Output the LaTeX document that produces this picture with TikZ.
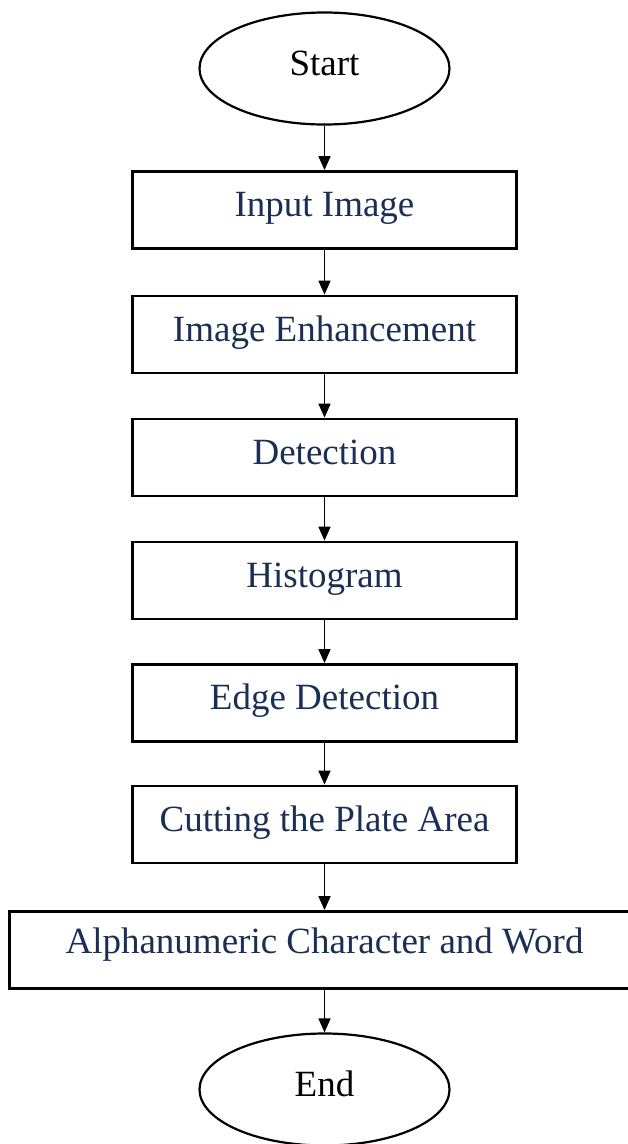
\documentclass[tikz,border=0pt]{standalone}
\usepackage{fontspec}
\setmainfont{Liberation Serif}
\usepackage{xcolor}
\definecolor{cText}{HTML}{1B2F55}
\usetikzlibrary{positioning,arrows.meta,shapes.geometric}
\tikzset{
  node-box/.style={draw=black,line width=2.8pt,minimum height=77pt,
    minimum width=384pt,inner sep=0pt,text height=25pt,text depth=12pt,
    font=\fontsize{37}{41}\selectfont,text=cText},
  node-term/.style={draw=black,line width=2.2pt,ellipse,inner sep=0pt,
    minimum width=250pt,minimum height=112pt,text height=25pt,text depth=12pt,
    font=\fontsize{37}{41}\selectfont},
  arrow/.style={-{Triangle[length=14pt,width=12pt]},line width=1.6pt},
}
\begin{document}
\begin{tikzpicture}
  \useasboundingbox (0,0) rectangle (627pt,-1144pt);
  \node[node-term] at (324.5pt,-68.5pt) (start) {Start};
  \foreach \name/\y/\txt in {input/210/Input Image, enhance/334.5/Image Enhancement,
      detect/457.5/Detection, histo/580.5/Histogram, edge/703/Edge Detection,
      cut/824.5/Cutting the Plate Area} {
    \node[node-box] at (324.5pt,-\y pt) (\name) {\txt};
  }
  \node[node-box,minimum width=630pt,text depth=18pt] at (324.5pt,-950pt) (alpha)
    {Alphanumeric Character and Word};
  \node[node-term] at (324.5pt,-1089.5pt) (end) {End};
  % connectors
  \foreach \a/\b in {start/input, input/enhance, enhance/detect, detect/histo,
      histo/edge, edge/cut, cut/alpha, alpha/end}
    \draw[arrow] (\a.south) -- (\b.north);
\end{tikzpicture}
\end{document}
